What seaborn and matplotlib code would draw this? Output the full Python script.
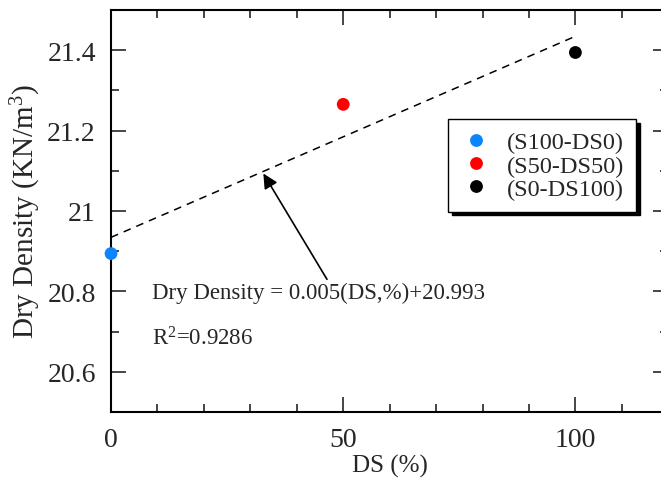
import matplotlib
matplotlib.use('Agg')
import matplotlib.pyplot as plt
from matplotlib.ticker import MultipleLocator
import seaborn as sns
import numpy as np
import pandas as pd

# values
ds = [0, 50, 100]
dry_density = [20.894, 21.265, 21.394]
mixes = ['(S100-DS0)', '(S50-DS50)', '(S0-DS100)']
colors = ['#0A84FF', '#FF0000', '#000000']

df = pd.DataFrame({'DS': ds, 'Dry Density': dry_density, 'mix': mixes})

sns.set_style('ticks')
plt.rcParams['font.family'] = ['Liberation Serif', 'DejaVu Serif']
plt.rcParams['mathtext.fontset'] = 'custom'
plt.rcParams['mathtext.rm'] = 'Liberation Serif'
plt.rcParams['mathtext.it'] = 'Liberation Serif:italic'

fig = plt.figure(figsize=(6.61, 4.81), dpi=100)
ax = fig.add_axes([0.168, 0.1414, 0.843, 0.836])

sns.regplot(data=df, x='DS', y='Dry Density', scatter=False, ci=None,
            color='black', line_kws=dict(linestyle=(0, (5, 4)), linewidth=1.1),
            truncate=True, ax=ax)
sns.scatterplot(data=df, x='DS', y='Dry Density', hue='mix', palette=colors,
                s=85, edgecolor='none', zorder=3, clip_on=False, ax=ax)

ax.set_xlim(0, 120)
ax.set_ylim(20.5, 21.5)
ax.xaxis.set_major_locator(MultipleLocator(50))
ax.xaxis.set_minor_locator(MultipleLocator(10))
ax.yaxis.set_minor_locator(MultipleLocator(0.1))
ax.set_yticks([20.6, 20.8, 21.0, 21.2, 21.4])
ax.set_yticklabels(['20.6', '20.8', '21', '21.2', '21.4'])
ax.tick_params(which='both', direction='in', top=True, right=True,
               width=1.2, labelsize=20, pad=11)
ax.tick_params(which='major', length=11)
ax.tick_params(which='minor', length=6)
for s in ax.spines.values():
    s.set_linewidth(1.5)
    s.set_color('black')

ax.set_xlabel('DS (%)', fontsize=18, labelpad=1)
ax.set_ylabel('Dry Density (KN/m$^{3}$)', fontsize=21, labelpad=3)

ax.annotate('', xy=(32.8, 21.093), xytext=(46.5, 20.83),
            arrowprops=dict(arrowstyle='-|>', color='black', lw=1.2,
                            mutation_scale=22, shrinkA=0, shrinkB=0))
ax.text(8.8, 20.797, 'Dry Density = 0.005(DS,%)+20.993', fontsize=16.5,
        va='center', ha='left')
ax.text(8.8, 20.684, 'R$^{2}$=0.9286', fontsize=16.5, va='center', ha='left')

leg = ax.legend(loc='upper left', bbox_to_anchor=(0.605, 0.728), frameon=True,
                fancybox=False, shadow={'color': 'black', 'alpha': 1, 'ox': 2.5, 'oy': -2.5},
                edgecolor='black', fontsize=17.5, handletextpad=0.6,
                handlelength=1.3, borderpad=0.5, labelspacing=0.05,
                borderaxespad=0)
leg.get_frame().set_linewidth(1.0)

fig.savefig('out.png', dpi=100)
